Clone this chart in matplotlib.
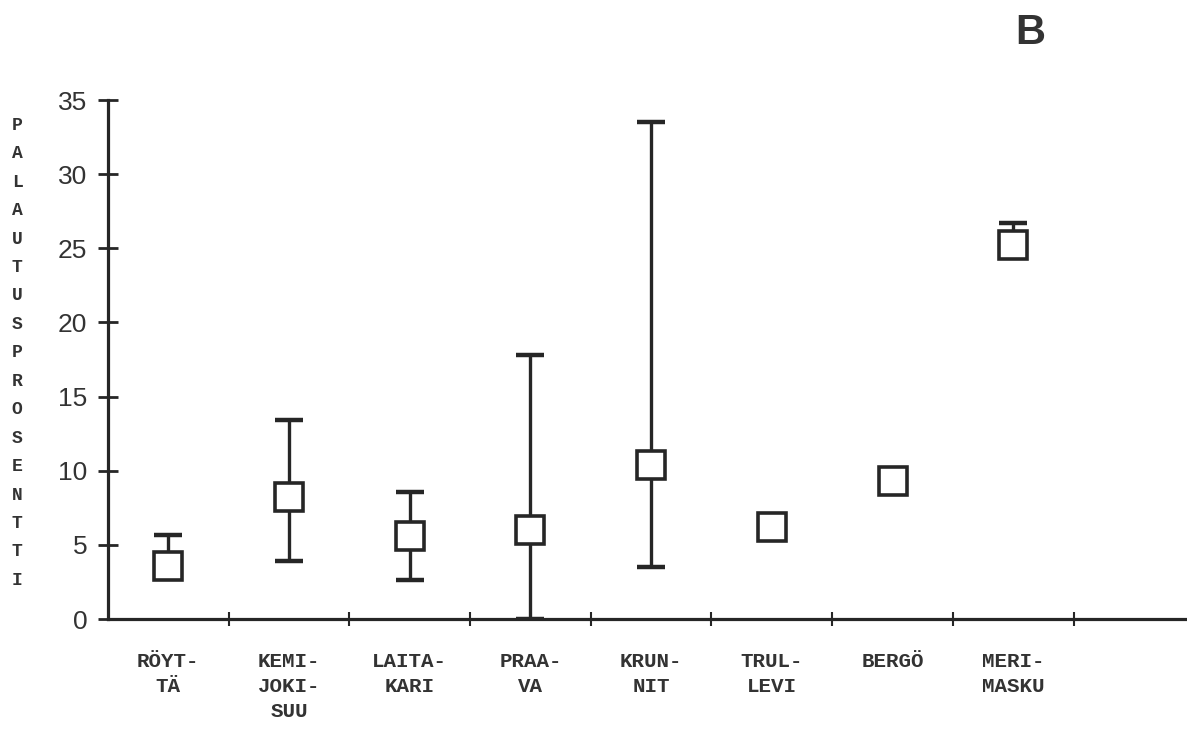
import matplotlib
matplotlib.use('Agg')
from matplotlib import pyplot as plt
import numpy as np

# Palautusprosentit paikoittain: keskiarvo, ala- ja ylaraja
paikat = ['RÖYT-\nTÄ', 'KEMI-\nJOKI-\nSUU', 'LAITA-\nKARI', 'PRAA-\nVA',
          'KRUN-\nNIT', 'TRUL-\nLEVI', 'BERGÖ', 'MERI-\nMASKU']
keskiarvo = [3.6, 8.2, 5.6, 6.0, 10.4, 6.2, 9.3, 25.2]
alaraja = [3.6, 3.9, 2.6, 0.0, 3.5, 6.2, 9.3, 25.2]
ylaraja = [5.7, 13.4, 8.6, 17.8, 33.5, 6.2, 9.3, 26.7]
y_ticks = [0, 5, 10, 15, 20, 25, 30, 35]

ink = '#262626'
mono = 'Liberation Mono'

fig = plt.figure(figsize=(11.87, 7.30), dpi=100)
ax = fig.add_axes([0.091, 0.152, 0.909, 0.711])

x = np.arange(len(paikat))
ka = np.array(keskiarvo)
err = [ka - np.array(alaraja), np.array(ylaraja) - ka]

# errorbars drawn separately up/down so a zero-length side gets no cap
for i in x:
    lo, hi = err[0][i], err[1][i]
    if hi > 0:
        ax.errorbar(i, ka[i], yerr=[[0], [hi]], fmt='none', ecolor=ink,
                    elinewidth=2.4, capsize=10, capthick=3.2, zorder=2)
    if lo > 0:
        ax.errorbar(i, ka[i], yerr=[[lo], [0]], fmt='none', ecolor=ink,
                    elinewidth=2.4, capsize=10, capthick=3.2, zorder=2)

ax.plot(x, ka, 's', markersize=19.5, markerfacecolor='white',
        markeredgecolor=ink, markeredgewidth=2.6, zorder=3)

ax.set_xlim(-0.5, 8.44)
ax.set_ylim(0, 35)

for side in ['top', 'right']:
    ax.spines[side].set_visible(False)
for side in ['left', 'bottom']:
    ax.spines[side].set_linewidth(2.3)
    ax.spines[side].set_color(ink)

ax.set_yticks(y_ticks)
ax.set_yticklabels([str(t) for t in y_ticks], fontsize=19,
                   family='Liberation Sans', color='#333333')
ax.tick_params(axis='y', direction='inout', length=14, width=2, color=ink, pad=8)

# category labels under the axis, tick marks between categories
ax.set_xticks(x)
ax.set_xticklabels(paikat, family=mono, fontweight='bold', fontsize=15,
                   color='#333333', linespacing=1.38, va='top')
ax.tick_params(axis='x', length=0, pad=24)
ax.set_xticks(np.arange(0.5, 8.5, 1), minor=True)
ax.tick_params(axis='x', which='minor', direction='inout', length=10,
               width=1.5, color=ink)

# stacked y-axis title
fig.text(0.0145, 0.84, '\n'.join('PALAUTUSPROSENTTI'), family=mono,
         fontweight='bold', fontsize=13, color='#333333',
         ha='center', va='top', linespacing=1.88)

fig.text(0.868, 0.955, 'B', family='Liberation Sans', fontweight='bold',
         fontsize=30, color='#333333', ha='center', va='center')

fig.savefig('out.png', dpi=100, facecolor='white')
